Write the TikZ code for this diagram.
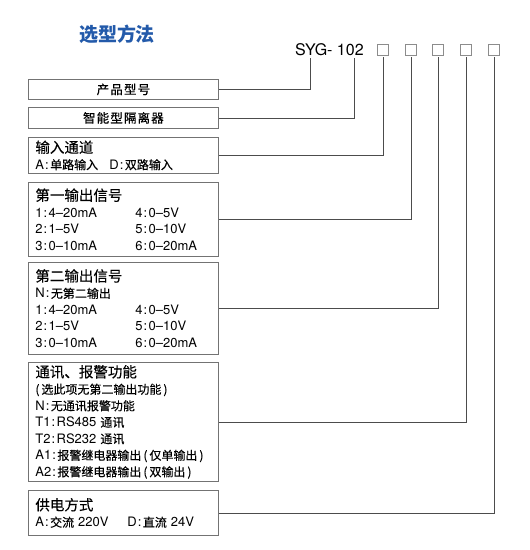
\documentclass[tikz,border=0pt]{standalone}
\usepackage{fontspec}
\setmainfont[FakeBold=0.25]{Noto Sans CJK SC}
\newfontfamily\latinfont[Ligatures=TeX]{TeX Gyre Heros}
\newfontfamily\breitfont[LetterSpace=9, FakeBold=0.5]{Noto Sans CJK SC}
\newfontfamily\titelfont{Noto Sans CJK SC}
\usepackage{tikz}
\definecolor{titelblau}{RGB}{35, 90, 170}
\usetikzlibrary{positioning}
\newcommand{\la}[1]{{\latinfont\fontsize{13}{16.5}\selectfont #1}}
\newcommand{\kolon}{\kern1pt:\kern1.5pt}
\newcommand{\spalte}[2]{\makebox[#1][l]{#2}}
\newcommand{\kopfzeile}[1]{{\fontsize{14.5}{16.5}\selectfont #1}}

\begin{document}
\begin{tikzpicture}[x=1pt, y=-1pt,
			auswahl/.style={draw=black!55, line width=0.8pt, anchor=north west, minimum width=190pt,
				text width=176pt, inner xsep=7pt, inner ysep=0pt, align=left,
				font=\fontsize{12}{16.5}\selectfont},
			kopf/.style={draw=black!55, line width=0.8pt, anchor=north west, minimum width=190pt,
				inner sep=0pt, font=\breitfont\fontsize{12.5}{14}\selectfont},
			kasten/.style={draw=black!45, line width=0.6pt, minimum size=11pt, inner sep=0pt},
			leitung/.style={draw=black!70, line width=0.7pt}]
			\useasboundingbox (0,0) rectangle (530,550);
			%Ueberschrift
			\node[font=\titelfont\bfseries\fontsize{19}{19}\selectfont, text=titelblau] (titel) at (117,34) {选型方法};
			%Typbezeichnung und Kaestchen
			\node[font=\latinfont\fontsize{16}{16}\selectfont, anchor=west, inner sep=0pt] (typ) at (295,49.5) {SYG- 102};
			\coordinate (typ-a) at (310,58);
			\coordinate (typ-b) at (354,58);
			\foreach \i/\x in {1/383,2/411,3/438,4/466,5/494}
				\node[kasten] (sq\i) at (\x,49.5) {};
			%Auswahlfelder
			\node[kopf, minimum height=20pt] (produkt) at (28,79) {产品型号};
			\node[kopf, minimum height=21pt] (geraet) at (28,107) {智能型隔离器};
			\node[auswahl, minimum height=36pt] (eingang) at (28,137)
				{\kopfzeile{输入通道}\\
				\spalte{74pt}{\la{A\kolon}单路输入}\la{D\kolon}双路输入};
			\node[auswahl, minimum height=74pt] (ausgang1) at (28,182)
				{\kopfzeile{第一输出信号}\\
				\spalte{100pt}{\la{1\kolon 4--20mA}}\la{4\kolon 0--5V}\\
				\spalte{100pt}{\la{2\kolon 1--5V}}\la{5\kolon 0--10V}\\
				\spalte{100pt}{\la{3\kolon 0--10mA}}\la{6\kolon 0--20mA}};
			\node[auswahl, minimum height=92pt] (ausgang2) at (28,262)
				{\kopfzeile{第二输出信号}\\
				\la{N\kolon}无第二输出\\
				\spalte{100pt}{\la{1\kolon 4--20mA}}\la{4\kolon 0--5V}\\
				\spalte{100pt}{\la{2\kolon 1--5V}}\la{5\kolon 0--10V}\\
				\spalte{100pt}{\la{3\kolon 0--10mA}}\la{6\kolon 0--20mA}};
			\node[auswahl, minimum height=119pt] (komm) at (28,362)
				{\kopfzeile{通讯、报警功能}\\
				(\,选此项无第二输出功能\,)\\
				\la{N\kolon}无通讯报警功能\\
				\la{T1\kolon RS485} 通讯\\
				\la{T2\kolon RS232} 通讯\\
				\la{A1\kolon}报警继电器输出\,(\,仅单输出\,)\\
				\la{A2\kolon}报警继电器输出\,(\,双输出\,)};
			\node[auswahl, minimum height=45pt] (versorgung) at (28,490)
				{\kopfzeile{供电方式}\\
				\spalte{92pt}{\la{A\kolon}交流 \la{220V}}\la{D\kolon}直流 \la{24V}};
			%Verbindungen
			\draw[leitung] (typ-a) |- (produkt.east);
			\draw[leitung] (typ-b) |- (geraet.east);
			\foreach \i/\ziel in {1/eingang,2/ausgang1,3/ausgang2,4/komm,5/versorgung}
				\draw[leitung, shorten <=2pt] (sq\i.south) |- (\ziel.east);
\end{tikzpicture}
\end{document}
